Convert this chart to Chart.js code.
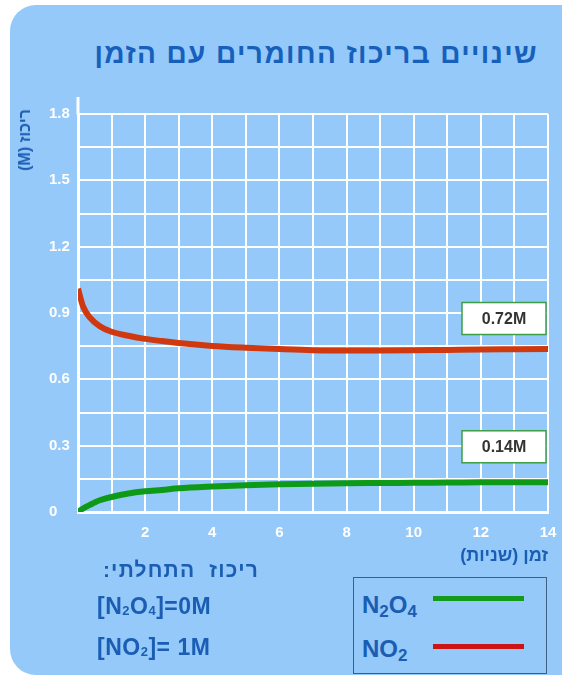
<!DOCTYPE html>
<html lang="he">
<head>
<meta charset="utf-8">
<script src="https://cdn.jsdelivr.net/npm/chart.js@4.4.1/dist/chart.umd.min.js"></script>
<style>
  html, body { margin: 0; padding: 0; background: #ffffff; }
  body { width: 562px; height: 677px; position: relative; overflow: hidden;
         font-family: "Liberation Sans", Arial, sans-serif; }
  #panel { position: absolute; left: 10px; top: 5px; width: 620px; height: 670px;
           border-radius: 26px; background: #94C9F9; }
  #chartWrap { position: absolute; left: 0; top: 80px; width: 562px; height: 490px; }
  .txt { position: absolute; white-space: pre; font-weight: bold; color: #1A5DB3; z-index: 2; }
  #title { right: 24px; top: 37px; font-size: 28px; line-height: 34px; letter-spacing: 1.4px; direction: rtl; color: #1660BC; }
  #ytitle { left: 25px; top: 140px; font-size: 16px; line-height: 18px; direction: rtl;
            transform: translate(-50%, -50%) rotate(-90deg); }
  #initTitle { right: 303px; top: 557px; font-size: 21px; line-height: 26px; letter-spacing: 1.2px; direction: rtl; }
  #initA { left: 97px; top: 592px; font-size: 23px; line-height: 28px; letter-spacing: 0.5px; }
  #initB { left: 97px; top: 633px; font-size: 23px; line-height: 28px; letter-spacing: 0.5px; }
  .small { font-size: 13px; vertical-align: -1px; }
  #legend { position: absolute; left: 353px; top: 577px; width: 192px; height: 95px;
            border: 1.5px solid #3F5E80; z-index: 2; }
  .legTxt { position: absolute; left: 8px; font-size: 24px; line-height: 28px; font-weight: bold; color: #1A5DB3; white-space: nowrap; }
  .legSub { font-size: 17px; vertical-align: -4px; }
  .legLine { position: absolute; left: 79px; width: 91px; height: 5px; }
</style>
</head>
<body>
<div id="panel"></div>
<div id="title" class="txt">שינויים בריכוז החומרים עם הזמן</div>
<div id="ytitle" class="txt">ריכוז (M)</div>
<div id="chartWrap"><canvas id="c" width="562" height="490"></canvas></div>
<div id="initTitle" class="txt">ריכוז  התחלתי:</div>
<div id="initA" class="txt">[N<span class="small">2</span>O<span class="small">4</span>]=0M</div>
<div id="initB" class="txt">[NO<span class="small">2</span>]= 1M</div>
<div id="legend">
  <div class="legTxt" style="top: 13px;">N<span class="legSub">2</span>O<span class="legSub">4</span></div>
  <div class="legLine" style="top: 18px; background: #149B1E;"></div>
  <div class="legTxt" style="top: 57px;">NO<span class="legSub">2</span></div>
  <div class="legLine" style="top: 66px; background: #CC1417;"></div>
</div>
<script>
// ---- data ----
const timeSec  = [0, 0.15, 0.35, 0.65, 1, 1.5, 2, 2.5, 3, 4, 5, 6, 7, 8, 9, 10, 11, 12, 13, 14];
const no2Conc  = [1.01, 0.93, 0.88, 0.84, 0.815, 0.797, 0.783, 0.773, 0.764, 0.751, 0.743, 0.737, 0.732, 0.730, 0.730, 0.731, 0.733, 0.735, 0.736, 0.737];
const n2o4Conc = [0, 0.016, 0.032, 0.053, 0.068, 0.084, 0.094, 0.100, 0.107, 0.115, 0.121, 0.125, 0.128, 0.130, 0.131, 0.132, 0.133, 0.134, 0.135, 0.135];
const xTickLabels = ['2', '4', '6', '8', '10', '12', '14'];
const yTickLabels = ['0', '0.3', '0.6', '0.9', '1.2', '1.5', '1.8'];
const equilibriumLabels = ['0.72M', '0.14M'];
const equilibriumValues = [0.72, 0.14];
const seriesNames = ['N2O4', 'NO2'];

const FONT = '"Liberation Sans", Arial, sans-serif';
const toPoints = (ys) => timeSec.map((t, i) => ({ x: t, y: ys[i] }));

const axisExtension = {
  id: 'axisExtension',
  beforeDatasetsDraw(chart) {
    const { ctx, chartArea } = chart;
    ctx.save();
    ctx.strokeStyle = '#ffffff';
    ctx.lineWidth = 3;
    ctx.beginPath();
    ctx.moveTo(chartArea.left, chartArea.top - 17);
    ctx.lineTo(chartArea.left, chartArea.top + 1);
    ctx.stroke();
    ctx.restore();
  }
};

const eqBoxes = {
  id: 'eqBoxes',
  afterDatasetsDraw(chart) {
    const { ctx, scales: { x, y } } = chart;
    const right = x.getPixelForValue(timeSec[timeSec.length - 1]) - 2;
    const w = 84, h = 32;
    ctx.save();
    equilibriumLabels.forEach((lab, i) => {
      const cy = y.getPixelForValue(equilibriumValues[i] + 0.155);
      ctx.fillStyle = '#ffffff';
      ctx.fillRect(right - w, cy - h / 2, w, h);
      ctx.strokeStyle = '#3E9E45';
      ctx.lineWidth = 1.5;
      ctx.strokeRect(right - w, cy - h / 2, w, h);
      ctx.fillStyle = '#333333';
      ctx.font = 'bold 16px ' + FONT;
      ctx.textAlign = 'center';
      ctx.textBaseline = 'middle';
      ctx.fillText(lab, right - w / 2, cy + 1);
    });
    ctx.restore();
  }
};

new Chart(document.getElementById('c'), {
  type: 'line',
  data: {
    datasets: [
      { label: seriesNames[0], data: toPoints(n2o4Conc), borderColor: '#0E9A16', borderWidth: 6,
        pointRadius: 0, cubicInterpolationMode: 'monotone', fill: false, borderCapStyle: 'butt' },
      { label: seriesNames[1], data: toPoints(no2Conc), borderColor: '#D0390F', borderWidth: 6,
        pointRadius: 0, cubicInterpolationMode: 'monotone', fill: false, borderCapStyle: 'butt' }
    ]
  },
  options: {
    responsive: false,
    animation: false,
    devicePixelRatio: 1,
    layout: { padding: { left: 49, right: 14, top: 34, bottom: 0 } },
    plugins: { legend: { display: false }, tooltip: { enabled: false }, title: { display: false } },
    scales: {
      x: {
        type: 'linear', min: 0, max: 14,
        afterFit: (s) => { s.height = 58; s.paddingLeft = 0; s.paddingRight = 0; },
        grid: { color: '#ffffff', lineWidth: 2, drawTicks: false },
        border: { color: '#ffffff', width: 3 },
        ticks: {
          stepSize: 1, autoSkip: false, maxRotation: 0, padding: 12, color: '#ffffff',
          font: { family: FONT, size: 15, weight: 'bold' },
          callback: (v) => { const s = String(v); return xTickLabels.includes(s) ? s : ''; }
        },
        title: {
          display: true, text: '\u202Bזמן (שניות)\u202C', align: 'end', color: '#1A5DB3',
          font: { family: FONT, size: 18, weight: 'bold' }, padding: { top: 0, bottom: 3 }
        }
      },
      y: {
        type: 'linear', min: 0, max: 1.8,
        afterFit: (s) => { s.width = 29; },
        afterBuildTicks: (s) => { s.ticks = s.ticks.filter(t => t.value <= 1.8001); },
        grid: { color: '#ffffff', lineWidth: 2, drawTicks: false },
        border: { color: '#ffffff', width: 3 },
        ticks: {
          stepSize: 0.15, includeBounds: false, autoSkip: false, padding: 6, crossAlign: 'far',
          color: '#ffffff', font: { family: FONT, size: 15, weight: 'bold' },
          callback: (v) => { const s = String(Math.round(v * 100) / 100); return yTickLabels.includes(s) ? s : ''; }
        }
      }
    }
  },
  plugins: [axisExtension, eqBoxes]
});
</script>
</body>
</html>
